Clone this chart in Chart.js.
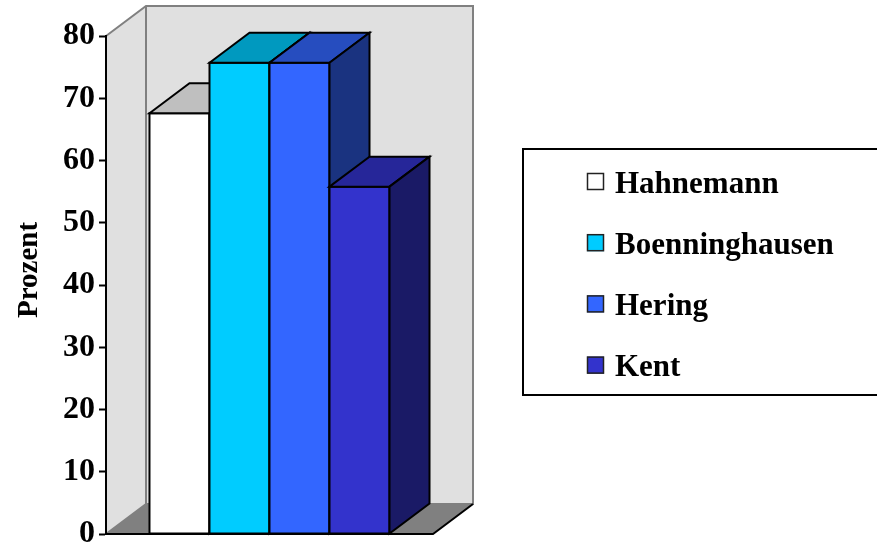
<!DOCTYPE html>
<html>
<head>
<meta charset="utf-8">
<script src="https://cdn.jsdelivr.net/npm/chart.js@4/dist/chart.umd.min.js"></script>
<style>
  html, body { margin: 0; padding: 0; background: #ffffff; }
  canvas { display: block; }
</style>
</head>
<body>
<canvas id="chart" width="877" height="548"></canvas>
<script>
// ---- data ----
const categories = [''];
const seriesNames = ['Hahnemann', 'Boenninghausen', 'Hering', 'Kent'];
const seriesValues = [67.6, 75.7, 75.7, 55.8];
const yTicks = [0, 10, 20, 30, 40, 50, 60, 70, 80];
const axisTitle = 'Prozent';

// ---- styles ----
const FONT = '"Liberation Serif", "Times New Roman", serif';
const frontColors = ['#ffffff', '#00ccff', '#3366ff', '#3333cc'];
const DEPTH_X = 40;     // depth of the 3D box, to the right
const DEPTH_Y = -30;    // and upwards
const WALL = '#e0e0e0';
const FLOOR = '#808080';
const EDGE = '#808080';

function shade(hex, f) {
  const n = parseInt(hex.slice(1), 16);
  const r = Math.round(((n >> 16) & 255) * f);
  const g = Math.round(((n >> 8) & 255) * f);
  const b = Math.round((n & 255) * f);
  return 'rgb(' + r + ',' + g + ',' + b + ')';
}

function poly(ctx, pts) {
  ctx.beginPath();
  ctx.moveTo(pts[0][0], pts[0][1]);
  for (let i = 1; i < pts.length; i++) ctx.lineTo(pts[i][0], pts[i][1]);
  ctx.closePath();
}

// Walls and floor of the 3D box, behind the axis and the bars
const box3d = {
  id: 'box3d',
  beforeDraw(chart) {
    const { ctx, chartArea: a } = chart;
    const L = a.left, R = a.right, T = a.top, B = a.bottom;
    const dx = DEPTH_X, dy = DEPTH_Y;
    ctx.save();
    ctx.fillStyle = WALL;
    ctx.fillRect(L + dx, T + dy, R - L, B - T);
    poly(ctx, [[L, T], [L + dx, T + dy], [L + dx, B + dy], [L, B]]);
    ctx.fill();
    ctx.fillStyle = FLOOR;
    poly(ctx, [[L, B], [L + dx, B + dy], [R + dx, B + dy], [R, B]]);
    ctx.fill();

    ctx.strokeStyle = EDGE;
    ctx.lineWidth = 2;
    ctx.lineJoin = 'miter';
    ctx.beginPath();
    ctx.moveTo(L, T);
    ctx.lineTo(L + dx, T + dy);
    ctx.lineTo(R + dx, T + dy);
    ctx.lineTo(R + dx, B + dy);
    ctx.lineTo(L + dx, B + dy);
    ctx.lineTo(L + dx, T + dy);
    ctx.moveTo(L, B);
    ctx.lineTo(L + dx, B + dy);
    ctx.stroke();

    ctx.strokeStyle = '#000000';
    ctx.beginPath();
    ctx.moveTo(L, B);
    ctx.lineTo(R, B);
    ctx.lineTo(R + dx, B + dy);
    ctx.stroke();

    // rotated axis title
    ctx.fillStyle = '#000000';
    ctx.font = 'bold 29px ' + FONT;
    ctx.textAlign = 'center';
    ctx.textBaseline = 'alphabetic';
    ctx.translate(37, (T + B) / 2 - 15);
    ctx.rotate(-Math.PI / 2);
    ctx.fillText(axisTitle, 0, 0);
    ctx.restore();
  },
  // Bars as 3D columns, drawn left to right so nearer faces cover hidden ones
  afterDatasetsDraw(chart) {
    const ctx = chart.ctx;
    const dx = DEPTH_X, dy = DEPTH_Y;
    ctx.save();
    ctx.lineWidth = 2;
    ctx.lineJoin = 'miter';
    ctx.strokeStyle = '#000000';
    chart.data.datasets.forEach((ds, i) => {
      const meta = chart.getDatasetMeta(i);
      const color = frontColors[i];
      meta.data.forEach(bar => {
        const p = bar.getProps(['x', 'y', 'base', 'width'], true);
        const l = p.x - p.width / 2, r = p.x + p.width / 2;
        const y = p.y, b = p.base;
        // front
        poly(ctx, [[l, y], [r, y], [r, b], [l, b]]);
        ctx.fillStyle = color; ctx.fill(); ctx.stroke();
        // top
        poly(ctx, [[l, y], [l + dx, y + dy], [r + dx, y + dy], [r, y]]);
        ctx.fillStyle = shade(color, 0.75); ctx.fill(); ctx.stroke();
        // right side
        poly(ctx, [[r, y], [r + dx, y + dy], [r + dx, b + dy], [r, b]]);
        ctx.fillStyle = shade(color, 0.5); ctx.fill(); ctx.stroke();
      });
    });
    ctx.restore();
  },
  // Framed legend on the right
  afterDraw(chart) {
    const ctx = chart.ctx;
    ctx.save();
    ctx.strokeStyle = '#000000';
    ctx.lineWidth = 2;
    ctx.strokeRect(523, 149, 370, 246);
    ctx.font = 'bold 31px ' + FONT;
    ctx.textAlign = 'left';
    ctx.textBaseline = 'alphabetic';
    chart.data.datasets.forEach((ds, i) => {
      const cy = 181.5 + i * 61.2;
      ctx.fillStyle = frontColors[i];
      ctx.fillRect(587, cy - 8.5, 17, 17);
      ctx.lineWidth = 1.5;
      ctx.strokeStyle = '#222222';
      ctx.strokeRect(587.5, cy - 8, 16, 16);
      ctx.fillStyle = '#000000';
      ctx.fillText(ds.label, 615, cy + 11);
    });
    ctx.restore();
  }
};

const chart = new Chart(document.getElementById('chart'), {
  type: 'bar',
  data: {
    labels: categories,
    datasets: seriesNames.map((name, i) => ({
      label: name,
      data: [seriesValues[i]],
      backgroundColor: frontColors[i],
      borderColor: '#000000',
      borderWidth: 0,
      barPercentage: 1.0,
      categoryPercentage: 0.734
    }))
  },
  options: {
    responsive: false,
    devicePixelRatio: 1,
    animation: false,
    layout: { padding: { top: 36, bottom: 14, left: 0, right: 444 } },
    plugins: {
      legend: { display: false },
      tooltip: { enabled: false },
      title: { display: false }
    },
    scales: {
      x: { display: false },
      y: {
        min: 0,
        max: 80,
        afterBuildTicks(scale) { scale.ticks = yTicks.map(v => ({ value: v })); },
        ticks: {
          font: { family: FONT, size: 32, weight: 'bold' },
          color: '#000000',
          padding: 4
        },
        grid: {
          drawOnChartArea: false,
          drawTicks: true,
          tickLength: 7,
          tickColor: '#000000',
          tickWidth: 2
        },
        border: { display: true, color: '#000000', width: 2 },
        afterFit(scale) {
          scale.width = 106;
          scale.paddingTop = 0;
          scale.paddingBottom = 0;
        }
      }
    }
  },
  plugins: [box3d]
});
</script>
</body>
</html>
